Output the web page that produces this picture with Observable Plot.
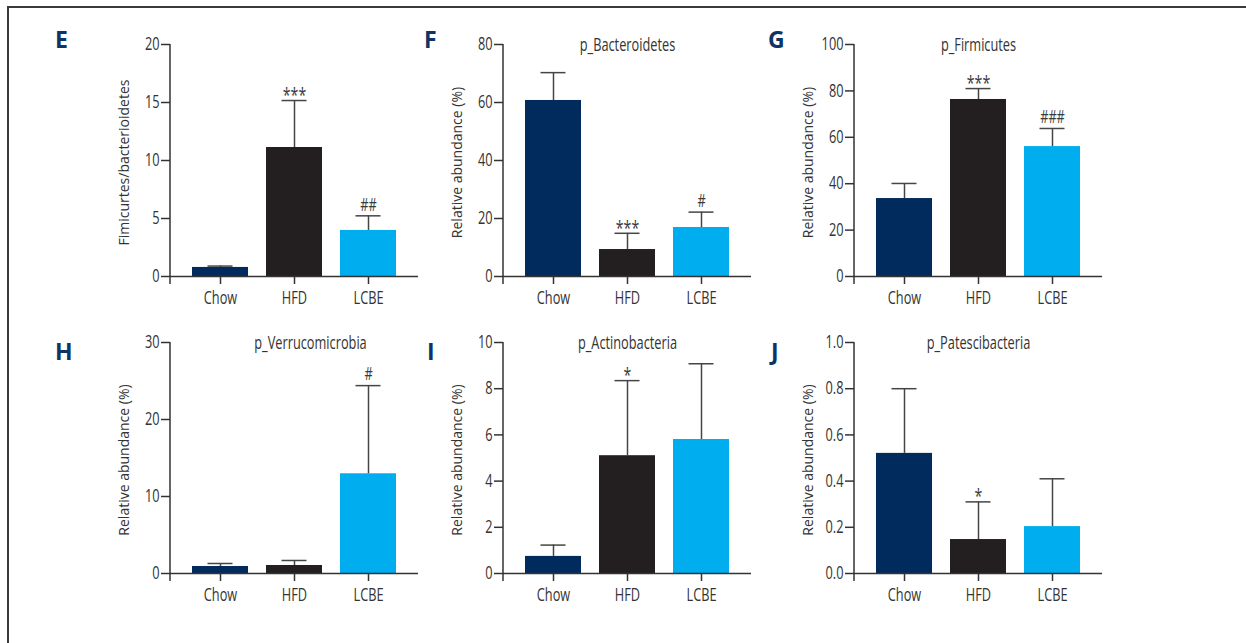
<!DOCTYPE html>
<html><head><meta charset="utf-8">
<script src="https://cdn.jsdelivr.net/npm/d3@7"></script>
<script src="https://cdn.jsdelivr.net/npm/@observablehq/plot@0.6"></script>
<style>
body{margin:0;background:#fff;}
#page{position:relative;width:1246px;height:643px;overflow:hidden;background:#fff;}
#border{position:absolute;left:7px;top:6px;width:1300px;height:700px;border-top:2px solid #3a3a3a;border-left:2px solid #3a3a3a;}
.letter{position:absolute;font-family:"Open Sans",sans-serif;font-weight:700;font-size:23px;line-height:23px;color:#0e3465;}
.panel{position:absolute;}
</style></head>
<body><div id="page"><div id="border"></div></div>
<script>
const groups = ["Chow", "HFD", "LCBE"];
const barColors = ["#002b5c", "#231f20", "#00adee"];

// E: Firmicutes/Bacteroidetes ratio
const ratioMean = [0.78, 11.12, 3.97];
const ratioSD = [0.12, 4.05, 1.26];
const ratioSig = ["", "***", "##"];
const ratioTicks = [0, 5, 10, 15, 20];
// F: p_Bacteroidetes
const bactMean = [60.7, 9.3, 16.9];
const bactSD = [9.6, 5.6, 5.3];
const bactSig = ["", "***", "#"];
const bactTicks = [0, 20, 40, 60, 80];
// G: p_Firmicutes
const firmMean = [33.6, 76.3, 56.0];
const firmSD = [6.5, 4.7, 7.8];
const firmSig = ["", "***", "###"];
const firmTicks = [0, 20, 40, 60, 80, 100];
// H: p_Verrucomicrobia
const verrMean = [0.91, 1.04, 12.95];
const verrSD = [0.39, 0.65, 11.45];
const verrSig = ["", "", "#"];
const verrTicks = [0, 10, 20, 30];
// I: p_Actinobacteria
const actiMean = [0.74, 5.1, 5.8];
const actiSD = [0.49, 3.25, 3.28];
const actiSig = ["", "*", ""];
const actiTicks = [0, 2, 4, 6, 8, 10];
// J: p_Patescibacteria
const pateMean = [0.52, 0.147, 0.203];
const pateSD = [0.28, 0.163, 0.207];
const pateSig = ["", "*", ""];
const pateTicks = [0, 0.2, 0.4, 0.6, 0.8, 1.0];

const FONT = '"Open Sans",sans-serif';
const INK = "#333";
const ERR = "#454545";
const NARROW = 0.71;

// give text a condensed look (reference uses a condensed face): horizontal scale about the text anchor
function condense(svg, k, skip) {
  svg.querySelectorAll("text").forEach(t => {
    if (t.textContent === skip) return;
    const tr = t.getAttribute("transform") || "";
    const xa = t.getAttribute("x");
    let extra = "";
    if (xa !== null && xa !== "" && !isNaN(+xa)) { extra = `translate(${+xa},0) `; t.removeAttribute("x"); }
    t.setAttribute("transform", `${tr} ${extra}scale(${k},1)`.trim());
  });
}

function panel(o) {
  const ML = 60, MR = 8, MT = 30, MB = 42, FW = 248;
  const data = groups.map((g, i) => ({g, v: o.mean[i], hi: o.mean[i] + o.sd[i], s: o.sig[i]}));
  const stars = data.filter(d => d.s.startsWith("*"));
  const hashes = data.filter(d => d.s.startsWith("#"));
  const yAxisLine = (index, scales) => d3.create("svg:line")
      .attr("x1", ML).attr("x2", ML)
      .attr("y1", scales.y(o.ticks[o.ticks.length - 1]))
      .attr("y2", scales.y(0) + 8)
      .attr("stroke", INK).attr("stroke-width", 1.5).node();
  const chart = Plot.plot({
    width: ML + FW + MR, height: MT + o.frameH + MB,
    marginLeft: ML, marginRight: MR, marginTop: MT, marginBottom: MB,
    style: {fontFamily: FONT, fontSize: "18px", color: INK, background: "transparent"},
    x: {domain: groups, paddingInner: 0.243, paddingOuter: 0.29},
    y: {domain: [0, o.ticks[o.ticks.length - 1]]},
    color: {domain: groups, range: barColors},
    marks: [
      Plot.barY(data, {x: "g", y: "v", fill: "g"}),
      Plot.ruleX(data, {x: "g", y1: "v", y2: "hi", stroke: ERR, strokeWidth: 1.5}),
      Plot.tickY(data, {x: "g", y: "hi", stroke: ERR, strokeWidth: 1.5, insetLeft: 15.5, insetRight: 15.5}),
      Plot.ruleY([0], {stroke: INK, strokeWidth: 1.5}),
      yAxisLine,
      Plot.axisY({ticks: o.ticks, tickFormat: o.fmt, tickSize: 9, tickPadding: 2, label: null, strokeWidth: 1.5, fontSize: 18}),
      Plot.axisX({tickSize: 8, tickPadding: 7, label: null, strokeWidth: 1.5, fontSize: 18}),
      Plot.text(stars, {x: "g", y: "hi", text: "s", lineAnchor: "middle", dy: -5, fontSize: 20, fill: "#3a3a3a"}),
      Plot.text(hashes, {x: "g", y: "hi", text: "s", lineAnchor: "middle", dy: -11, fontSize: 18, fill: "#3a3a3a"}),
      Plot.text([o.title], {frameAnchor: "top", lineAnchor: "middle", dy: 1, dx: o.titleDx || 0, fontSize: 18}),
      Plot.text([o.ylabel], {frameAnchor: "left", rotate: -90, dx: -46, dy: 2, lineAnchor: "middle", textAnchor: "middle", fontSize: 14})
    ]
  });
  condense(chart, NARROW, o.ylabel);
  chart.classList.add("panel");
  chart.style.left = (o.axisX - ML) + "px";
  chart.style.top = (o.topY - MT) + "px";
  document.getElementById("page").appendChild(chart);
}

function letter(t, left, top) {
  const d = document.createElement("div");
  d.className = "letter"; d.textContent = t;
  d.style.left = left + "px"; d.style.top = top + "px";
  document.getElementById("page").appendChild(d);
}

const relLabel = "Relative abundance (%)";
panel({axisX: 170, topY: 44, frameH: 232, mean: ratioMean, sd: ratioSD, sig: ratioSig, ticks: ratioTicks, fmt: d3.format("d"), title: "", ylabel: "Fimicurtes/bacterioidetes"});
panel({axisX: 503, topY: 44, frameH: 232, mean: bactMean, sd: bactSD, sig: bactSig, ticks: bactTicks, fmt: d3.format("d"), title: "p_Bacteroidetes", ylabel: relLabel});
panel({axisX: 854, topY: 44, frameH: 232, mean: firmMean, sd: firmSD, sig: firmSig, ticks: firmTicks, fmt: d3.format("d"), title: "p_Firmicutes", ylabel: relLabel});
panel({axisX: 170, topY: 342, frameH: 231, mean: verrMean, sd: verrSD, sig: verrSig, ticks: verrTicks, fmt: d3.format("d"), title: "p_Verrucomicrobia", titleDx: 16, ylabel: relLabel});
panel({axisX: 503, topY: 342, frameH: 231, mean: actiMean, sd: actiSD, sig: actiSig, ticks: actiTicks, fmt: d3.format("d"), title: "p_Actinobacteria", ylabel: relLabel});
panel({axisX: 854, topY: 342, frameH: 231, mean: pateMean, sd: pateSD, sig: pateSig, ticks: pateTicks, fmt: d3.format(".1f"), title: "p_Patescibacteria", ylabel: relLabel});

letter("E", 55, 28); letter("F", 424, 28); letter("G", 768, 28);
letter("H", 55, 340); letter("I", 427, 340); letter("J", 771, 340);
</script></body></html>
